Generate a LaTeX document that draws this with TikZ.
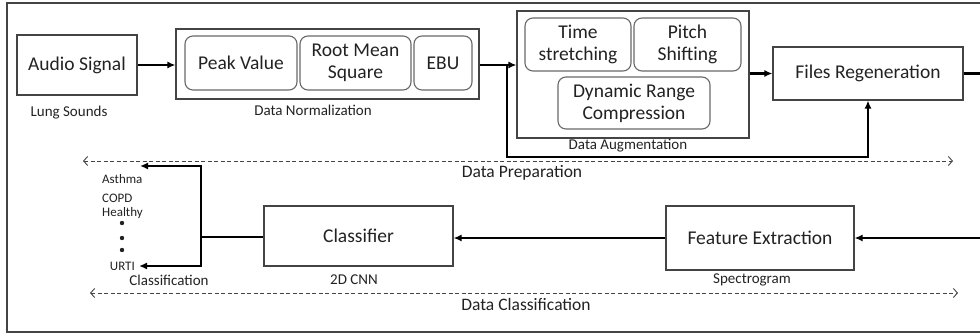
\documentclass[tikz,border=0pt]{standalone}
\usepackage{fontspec}
\setmainfont{Carlito}
\usetikzlibrary{arrows.meta}
\definecolor{txt}{HTML}{222222}
\definecolor{edge}{HTML}{444444}
\tikzset{
  box/.style={draw=edge, line width=1.1pt, inner sep=0pt, align=center, text=txt, font=\fontsize{19.5}{22}\selectfont},
  rbox/.style={box, rounded corners=8pt, draw=edge!80},
  lab/.style={text=txt, inner sep=0pt, font=\fontsize{15}{17}\selectfont},
  biglab/.style={text=txt, inner sep=0pt, font=\fontsize{17.5}{20}\selectfont},
  cls/.style={text=txt, inner sep=0pt, anchor=west, font=\fontsize{13}{15}\selectfont},
  conn/.style={line width=2.3pt, black},
  arr/.style={conn, -{Latex[length=8pt,width=7pt]}},
  span/.style={draw=edge, line width=0.9pt, dash pattern=on 4pt off 2.5pt, {Straight Barb[length=4pt,width=9pt]}-{Straight Barb[length=4pt,width=9pt]}},
}
\begin{document}
\begin{tikzpicture}[x=1pt,y=-1pt]
\useasboundingbox (0,0) rectangle (980,336);
\clip (0,0) rectangle (980,336);
% outer frame
\draw[edge, line width=1.2pt] (990,3) -- (7,3) -- (7,332) -- (990,332);

% top row
\node[box, minimum width=120pt, minimum height=60pt] (audio) at (77,65) {Audio Signal};
\node[lab] (lung) at (69,113) {Lung Sounds};

\node[box, minimum width=303pt, minimum height=70pt] (dn) at (327.5,64) {};
\node[rbox, minimum width=112pt, minimum height=54pt] (peak) at (241,63) {Peak Value};
\node[rbox, minimum width=111pt, minimum height=54pt] (rms) at (355.5,63) {Root Mean\\Square};
\node[rbox, minimum width=58pt, minimum height=54pt] (ebu) at (443,63) {EBU};
\node[lab] (dnl) at (313,110) {Data Normalization};

\node[box, minimum width=232pt, minimum height=127pt] (da) at (633,74.5) {};
\node[rbox, minimum width=106pt, minimum height=53pt] (ts) at (578,44.5) {Time\\stretching};
\node[rbox, minimum width=107pt, minimum height=53pt] (ps) at (687.5,44.5) {Pitch\\Shifting};
\node[rbox, minimum width=152pt, minimum height=52pt] (drc) at (634,103) {Dynamic Range\\Compression};
\node[lab] (dal) at (628,146) {Data Augmentation};

\node[box, minimum width=190pt, minimum height=53pt] (fr) at (868,73.5) {Files Regeneration};

% bottom row
\node[box, minimum width=189pt, minimum height=60pt] (clsf) at (358.5,236) {Classifier};
\node[lab] (cnn) at (354,280) {2D CNN};
\node[box, minimum width=188pt, minimum height=64pt] (fe) at (760,238) {Feature Extraction};
\node[lab] (spec) at (752,280) {Spectrogram};

\node[cls] (asthma) at (102,179) {Asthma};
\node[cls] (copd) at (102,198) {COPD};
\node[cls] (healthy) at (102,213) {Healthy};
\node[cls, anchor=east] (urti) at (135,266) {URTI};
\fill[txt] (122,223) circle (2.2pt) (122,238) circle (2.2pt) (122,250) circle (2.2pt);
\node[lab] (clsl) at (169,280) {Classification};

% spans
\coordinate (dpl) at (83,161);
\coordinate (dpr) at (953,161);
\draw[span] (dpl) -- (dpr);
\node[biglab] (dpt) at (522,172.5) {Data Preparation};
\coordinate (dcl) at (90,293);
\coordinate (dcr) at (958,293);
\draw[span] (dcl) -- (dcr);
\node[biglab] (dct) at (526,304.5) {Data Classification};

% connectors
\draw[arr] (audio.east) -- (dn.west |- audio.east);
\coordinate (br) at (507,65);
\coordinate (bl) at (507,157);
\draw[arr] (dn.east |- br) -- (da.west |- br);
\draw[arr] (br) -- (bl) -| (fr.south);
\draw[arr] (da.east |- fr.west) -- (fr.west);
\coordinate (frout) at (985,73.5);
\draw[conn] (fr.east) -- (frout);
\coordinate (fein) at (985,238);
\draw[arr] (fein) -- (fe.east);
\draw[arr] (fe.west) -- (clsf.east |- fe.west);
\coordinate (sp) at (201,237);
\draw[conn] (clsf.west |- sp) -- (sp);
\coordinate (ctop) at (140,166);
\coordinate (cbot) at (139,266);
\draw[arr] (sp) |- (ctop);
\draw[arr] (sp) |- (cbot);
\end{tikzpicture}
\end{document}
